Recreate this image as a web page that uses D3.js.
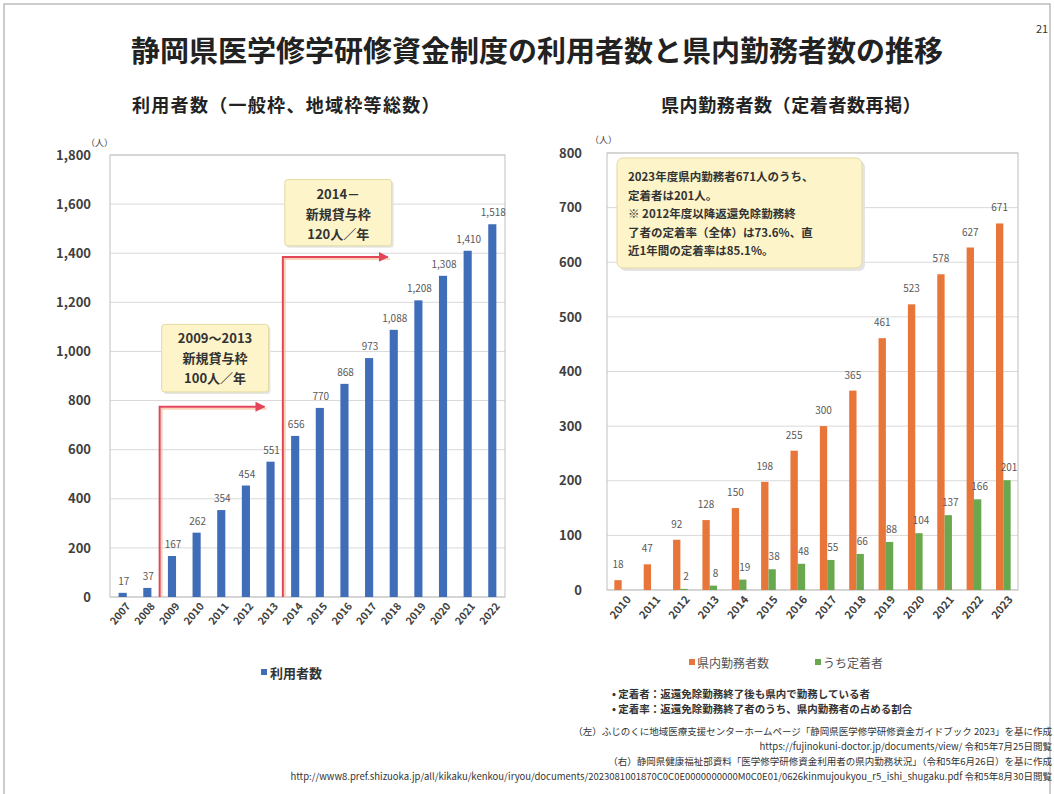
<!DOCTYPE html>
<html>
<head>
<meta charset="utf-8">
<script src="https://cdn.jsdelivr.net/npm/d3@7"></script>
<style>
  body { margin: 0; background: #fff; }
  text { font-family: "Noto Sans CJK JP", "Noto Sans", sans-serif; }
</style>
</head>
<body>
<script>
// left chart: 利用者数
var yearsL = ["2007","2008","2009","2010","2011","2012","2013","2014","2015","2016","2017","2018","2019","2020","2021","2022"];
var usersL = [17, 37, 167, 262, 354, 454, 551, 656, 770, 868, 973, 1088, 1208, 1308, 1410, 1518];
var ticksL = [0, 200, 400, 600, 800, 1000, 1200, 1400, 1600, 1800];

// right chart: 県内勤務者数 / うち定着者
var yearsR = ["2010","2011","2012","2013","2014","2015","2016","2017","2018","2019","2020","2021","2022","2023"];
var workersR = [18, 47, 92, 128, 150, 198, 255, 300, 365, 461, 523, 578, 627, 671];
var settledR = [null, null, 2, 8, 19, 38, 48, 55, 66, 88, 104, 137, 166, 201];
var ticksR = [0, 100, 200, 300, 400, 500, 600, 700, 800];

var W = 1054, H = 794;
var svg = d3.select("body").append("svg").attr("width", W).attr("height", H);

// slide frame
svg.append("rect").attr("x", 4).attr("y", 4).attr("width", 1046).attr("height", 820)
  .attr("fill", "none").attr("stroke", "#9a9a9a").attr("stroke-width", 1);

svg.append("text").attr("x", 1036).attr("y", 33).attr("font-size", 11).attr("fill", "#333").text("21");

svg.append("text").attr("x", 537).attr("y", 62).attr("text-anchor", "middle")
  .attr("font-size", 29).attr("font-weight", "bold").attr("fill", "#222")
  .text("静岡県医学修学研修資金制度の利用者数と県内勤務者数の推移");

svg.append("text").attr("x", 132).attr("y", 112).attr("font-size", 18).attr("letter-spacing", 1.3)
  .attr("font-weight", "bold").attr("fill", "#222")
  .text("利用者数（一般枠、地域枠等総数）");
svg.append("text").attr("x", 661).attr("y", 112).attr("font-size", 18).attr("letter-spacing", 0.6)
  .attr("font-weight", "bold").attr("fill", "#222")
  .text("県内勤務者数（定着者数再掲）");

var gray = "#404040", grid = "#d9d9d9";

// ---------- left chart ----------
var L = {x0: 110, x1: 505, y0: 155, y1: 597};
var xL = d3.scaleBand().domain(yearsL).range([L.x0, L.x1]).paddingInner(0.67).paddingOuter(0.35);
var yL = d3.scaleLinear().domain([0, 1800]).range([L.y1, L.y0]);

var gL = svg.append("g");
gL.selectAll(".gridL").data(ticksL).enter().append("line")
  .attr("x1", L.x0).attr("x2", L.x1)
  .attr("y1", function(d) { return yL(d); }).attr("y2", function(d) { return yL(d); })
  .attr("stroke", grid).attr("stroke-width", 1);
gL.append("rect").attr("x", L.x0).attr("y", L.y0).attr("width", L.x1 - L.x0).attr("height", L.y1 - L.y0)
  .attr("fill", "none").attr("stroke", "#bfbfbf");

var axL = gL.append("g").attr("transform", "translate(" + (L.x0 - 16) + ",0)")
  .call(d3.axisLeft(yL).tickValues(ticksL).tickFormat(d3.format(",")).tickSize(0));
axL.select(".domain").remove();
axL.selectAll("text").attr("font-size", 13).attr("font-weight", "bold").attr("fill", gray);
gL.append("text").attr("x", 86).attr("y", 146).attr("font-size", 9).attr("fill", gray).text("（人）");

var axXL = gL.append("g").attr("transform", "translate(0," + L.y1 + ")")
  .call(d3.axisBottom(xL).tickSize(0));
axXL.select(".domain").remove();
axXL.selectAll("text").attr("font-size", 10.5).attr("font-weight", "bold").attr("fill", gray)
  .attr("text-anchor", "end").attr("dx", "-0.2em").attr("dy", "0.9em")
  .attr("transform", "rotate(-50)");

gL.selectAll(".barL").data(usersL).enter().append("rect")
  .attr("x", function(d, i) { return xL(yearsL[i]); })
  .attr("y", function(d) { return yL(d); })
  .attr("width", xL.bandwidth())
  .attr("height", function(d) { return L.y1 - yL(d); })
  .attr("fill", "#3f6db8");
gL.selectAll(".lblL").data(usersL).enter().append("text")
  .attr("x", function(d, i) { return xL(yearsL[i]) + xL.bandwidth() / 2 + 1; })
  .attr("y", function(d) { return yL(d) - 8; })
  .attr("text-anchor", "middle").attr("font-size", 10).attr("fill", "#595959")
  .text(function(d) { return d3.format(",")(d); });

// red arrows & boxes
var red = "#e2455a";
var defs = svg.append("defs");
defs.append("marker").attr("id", "arr").attr("viewBox", "0 0 10 10").attr("refX", 9).attr("refY", 5)
  .attr("markerWidth", 5).attr("markerHeight", 5).attr("orient", "auto")
  .append("path").attr("d", "M0,0 L10,5 L0,10 z").attr("fill", red);

function between(a, b) { return (xL(a) + xL.bandwidth() + xL(b)) / 2; }
var arrows = [
  {from: ["2008", "2009"], to: "2013", level: 775, box: [1110, 835], lines: ["2009～2013", "新規貸与枠", "100人／年"]},
  {from: ["2013", "2014"], to: "2018", level: 1385, box: [1700, 1430], lines: ["2014－", "新規貸与枠", "120人／年"]}
];
arrows.forEach(function(a) {
  var xv = between(a.from[0], a.from[1]);
  var xe = xL(a.to) - 2;
  gL.append("path")
    .attr("d", "M" + (xv + 2) + "," + L.y1 + " V" + (yL(a.level) + 2) + " H" + (xe + 2))
    .attr("fill", "none").attr("stroke", "#f6b58a").attr("stroke-width", 2).attr("opacity", 0.6);
  gL.append("path")
    .attr("d", "M" + xv + "," + L.y1 + " V" + yL(a.level) + " H" + xe)
    .attr("fill", "none").attr("stroke", red).attr("stroke-width", 2)
    .attr("marker-end", "url(#arr)");
  var bx = xv + 2, bw = xe - xv + 2, by = yL(a.box[0]), bh = yL(a.box[1]) - yL(a.box[0]);
  gL.append("rect").attr("x", bx + 2).attr("y", by + 2).attr("width", bw).attr("height", bh).attr("rx", 3)
    .attr("fill", "#e6e6e6");
  gL.append("rect").attr("x", bx).attr("y", by).attr("width", bw).attr("height", bh).attr("rx", 3)
    .attr("fill", "#fdf5c9").attr("stroke", "#e3d9a0");
  a.lines.forEach(function(t, k) {
    gL.append("text").attr("x", bx + bw / 2).attr("y", by + 19 + k * 20)
      .attr("text-anchor", "middle").attr("font-size", 13).attr("font-weight", "bold").attr("fill", "#333").text(t);
  });
});

// left legend
svg.append("rect").attr("x", 261).attr("y", 669).attr("width", 6).attr("height", 6).attr("fill", "#3f6db8");
svg.append("text").attr("x", 270).attr("y", 678).attr("font-size", 13).attr("font-weight", "bold").attr("fill", "#333").text("利用者数");

// ---------- right chart ----------
var R = {x0: 607, x1: 1018, y0: 153, y1: 590};
var xR = d3.scaleBand().domain(yearsR).range([R.x0, R.x1]).paddingInner(0.5).paddingOuter(0.25);
var xs = d3.scaleBand().domain(["w", "s"]).range([0, xR.bandwidth()]);
var yR = d3.scaleLinear().domain([0, 800]).range([R.y1, R.y0]);

var gR = svg.append("g");
gR.selectAll(".gridR").data(ticksR).enter().append("line")
  .attr("x1", R.x0).attr("x2", R.x1)
  .attr("y1", function(d) { return yR(d); }).attr("y2", function(d) { return yR(d); })
  .attr("stroke", grid);
gR.append("rect").attr("x", R.x0).attr("y", R.y0).attr("width", R.x1 - R.x0).attr("height", R.y1 - R.y0)
  .attr("fill", "none").attr("stroke", "#bfbfbf");

var axR = gR.append("g").attr("transform", "translate(" + (R.x0 - 22) + ",0)")
  .call(d3.axisLeft(yR).tickValues(ticksR).tickSize(0));
axR.select(".domain").remove();
axR.selectAll("text").attr("font-size", 13).attr("font-weight", "bold").attr("fill", gray);
gR.append("text").attr("x", 590).attr("y", 143).attr("font-size", 9).attr("fill", gray).text("（人）");

var axXR = gR.append("g").attr("transform", "translate(0," + R.y1 + ")")
  .call(d3.axisBottom(xR).tickSize(0));
axXR.select(".domain").remove();
axXR.selectAll("text").attr("font-size", 11).attr("font-weight", "bold").attr("fill", gray)
  .attr("text-anchor", "end").attr("dx", "-0.1em").attr("dy", "1em")
  .attr("transform", "rotate(-50)");

var orange = "#e8763a", green = "#6aa84f";
gR.selectAll(".barW").data(workersR).enter().append("rect")
  .attr("x", function(d, i) { return xR(yearsR[i]) + xs("w"); })
  .attr("y", function(d) { return yR(d); })
  .attr("width", xs.bandwidth())
  .attr("height", function(d) { return R.y1 - yR(d); })
  .attr("fill", orange);
gR.selectAll(".barS").data(settledR).enter().filter(function(d) { return d != null; }).append("rect")
  .attr("x", function(d) { return xR(yearsR[settledR.indexOf(d)]) + xs("s"); })
  .attr("y", function(d) { return yR(d); })
  .attr("width", xs.bandwidth())
  .attr("height", function(d) { return R.y1 - yR(d); })
  .attr("fill", green);
gR.selectAll(".lblW").data(workersR).enter().append("text")
  .attr("x", function(d, i) { return xR(yearsR[i]) + xs("w") + xs.bandwidth() / 2; })
  .attr("y", function(d) { return yR(d) - 12; })
  .attr("text-anchor", "middle").attr("font-size", 10).attr("fill", "#595959")
  .text(function(d) { return d; });
gR.selectAll(".lblS").data(settledR).enter().filter(function(d) { return d != null; }).append("text")
  .attr("x", function(d) { return xR(yearsR[settledR.indexOf(d)]) + xs("s") + xs.bandwidth() / 2 + 2; })
  .attr("y", function(d) { return yR(d) - 9; })
  .attr("text-anchor", "middle").attr("font-size", 10).attr("fill", "#595959")
  .text(function(d) { return d; });

// info box
var ib = {x: 617, y: 158, w: 245, h: 110};
gR.append("rect").attr("x", ib.x + 3).attr("y", ib.y + 3).attr("width", ib.w).attr("height", ib.h).attr("rx", 6).attr("fill", "#e4e4e4");
gR.append("rect").attr("x", ib.x).attr("y", ib.y).attr("width", ib.w).attr("height", ib.h).attr("rx", 6)
  .attr("fill", "#fdf5c9").attr("stroke", "#e3d9a0");
var infoLines = ["2023年度県内勤務者671人のうち、", "定着者は201人。", "※ 2012年度以降返還免除勤務終",
  "了者の定着率（全体）は73.6%、直", "近1年間の定着率は85.1%。"];
infoLines.forEach(function(t, k) {
  gR.append("text").attr("x", ib.x + 11).attr("y", ib.y + 23 + k * 18.5)
    .attr("font-size", 11.5).attr("font-weight", "bold").attr("fill", "#333").text(t);
});

// right legend
svg.append("rect").attr("x", 689).attr("y", 659).attr("width", 6).attr("height", 6).attr("fill", orange);
svg.append("text").attr("x", 697).attr("y", 668).attr("font-size", 12).attr("fill", "#555").text("県内勤務者数");
svg.append("rect").attr("x", 815).attr("y", 659).attr("width", 6).attr("height", 6).attr("fill", green);
svg.append("text").attr("x", 823).attr("y", 668).attr("font-size", 12).attr("fill", "#555").text("うち定着者");

// notes & sources
var notes = ["• 定着者：返還免除勤務終了後も県内で勤務している者", "• 定着率：返還免除勤務終了者のうち、県内勤務者の占める割合"];
notes.forEach(function(t, k) {
  svg.append("text").attr("x", 612).attr("y", 698 + k * 15).attr("font-size", 10.5).attr("font-weight", "bold").attr("fill", "#333").text(t);
});
var sources = [
  "（左）ふじのくに地域医療支援センターホームページ「静岡県医学修学研修資金ガイドブック 2023」を基に作成",
  "https://fujinokuni-doctor.jp/documents/view/ 令和5年7月25日閲覧",
  "（右）静岡県健康福祉部資料「医学修学研修資金利用者の県内勤務状況」（令和5年6月26日）を基に作成",
  "http://www8.pref.shizuoka.jp/all/kikaku/kenkou/iryou/documents/2023081001870C0C0E0000000000M0C0E01/0626kinmujoukyou_r5_ishi_shugaku.pdf 令和5年8月30日閲覧"
];
sources.forEach(function(t, k) {
  svg.append("text").attr("x", 1052).attr("y", 735 + k * 15).attr("text-anchor", "end")
    .attr("font-size", 9.5).attr("fill", "#333").text(t);
});
</script>
</body>
</html>
